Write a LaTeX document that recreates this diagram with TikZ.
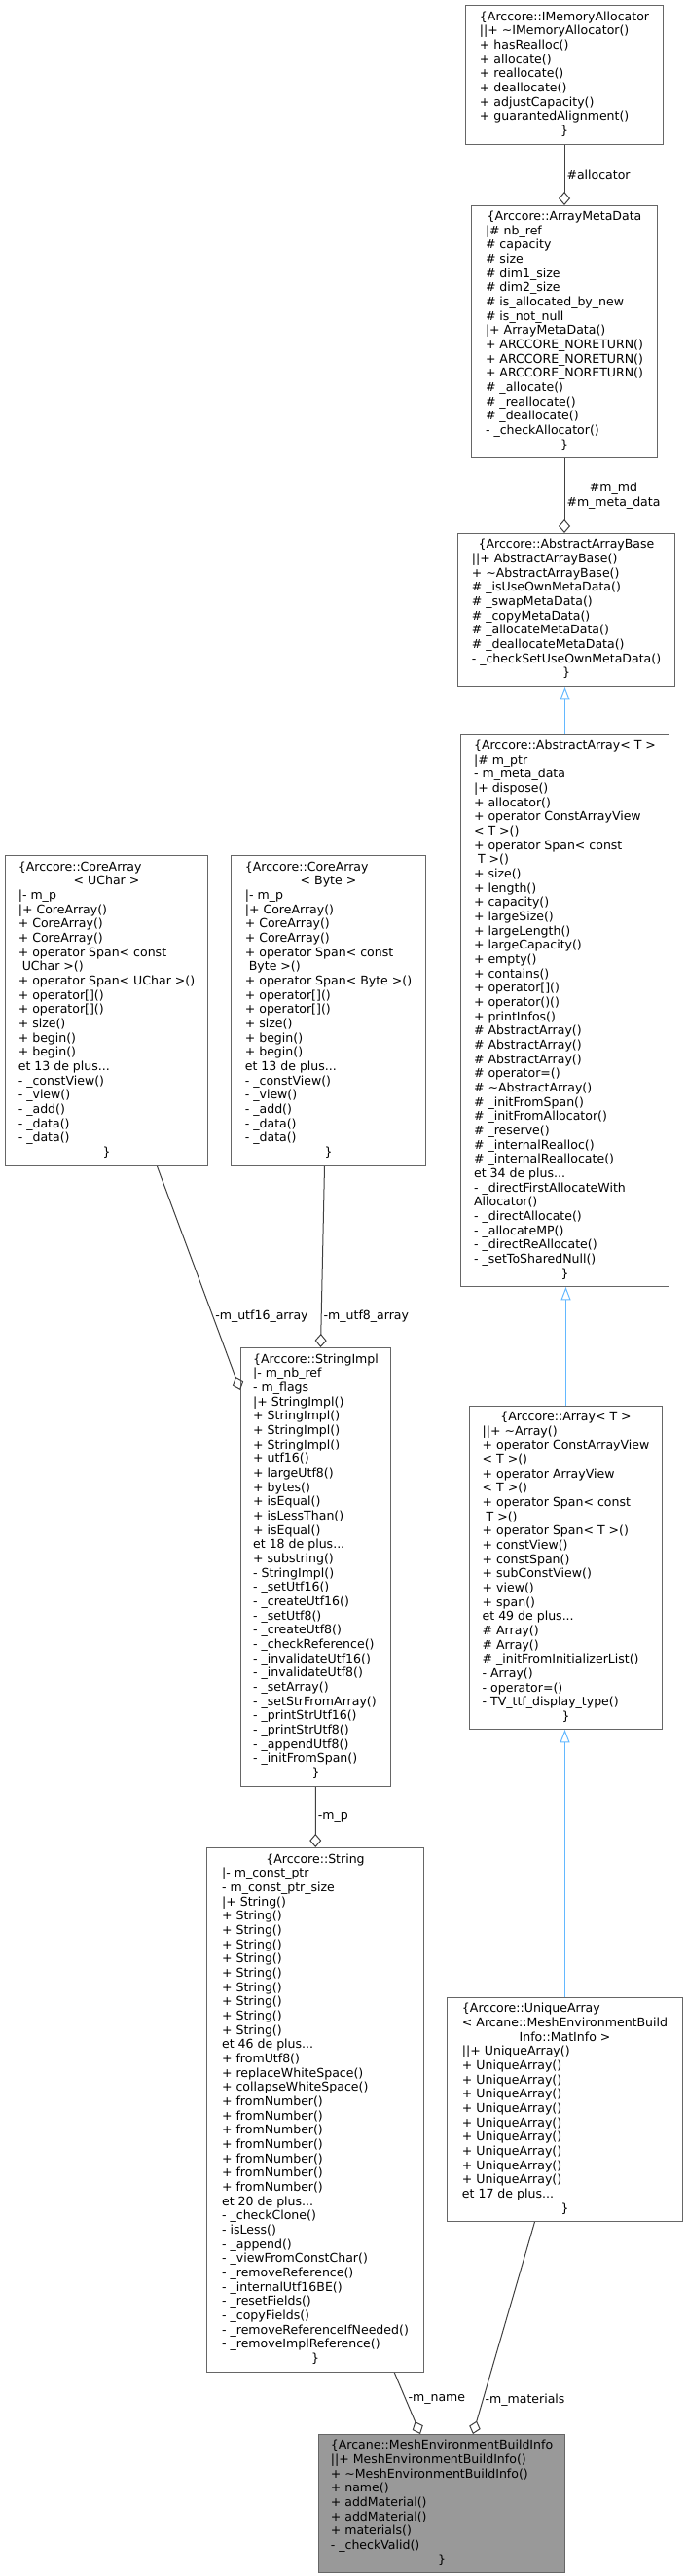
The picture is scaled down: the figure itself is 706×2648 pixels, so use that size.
\documentclass[tikz,border=0pt]{standalone}
\usepackage{fontspec}
\setmainfont{DejaVu Sans}
\usetikzlibrary{arrows.meta}

\definecolor{edgegray}{HTML}{404040}
\definecolor{boxgray}{HTML}{666666}
\definecolor{inhblue}{HTML}{63B8FF}
\definecolor{mainfill}{HTML}{999999}

% centred line inside a member list
\newcommand{\ctline}[1]{\multicolumn{1}{@{}c@{}}{#1}}
\newcommand{\members}[1]{\begin{tabular}{@{}l@{}}#1\end{tabular}}

\begin{document}
\begin{tikzpicture}[
    x=0.75pt, y=-0.75pt,
    font=\fontsize{9.4}{11}\selectfont,
    cls/.style={draw=boxgray, line width=0.75pt, fill=white, anchor=north west, inner sep=0pt},
    has/.style={draw=edgegray, line width=0.75pt, -{Diamond[open, length=10.5pt, width=9pt]}},
    inh/.style={draw=inhblue, line width=0.75pt, -{Triangle[open, length=10pt, width=7.5pt]}},
    lbl/.style={inner sep=1.5pt, anchor=west}
  ]
  \useasboundingbox (0,0) rectangle (706,2648);

  \node[cls, minimum width=152.25pt, minimum height=107.25pt] (alloc) at (478,5) {\members{%
    \ctline{\{Arccore::IMemoryAllocator}\\
    ||+ \textasciitilde IMemoryAllocator()\\
    + hasRealloc()\\
    + allocate()\\
    + reallocate()\\
    + deallocate()\\
    + adjustCapacity()\\
    + guarantedAlignment()\\
    \ctline{\}}}};

  \node[cls, minimum width=143.25pt, minimum height=194.25pt] (meta) at (484,211) {\members{%
    \ctline{\{Arccore::ArrayMetaData}\\
    |\# nb\_ref\\
    \# capacity\\
    \# size\\
    \# dim1\_size\\
    \# dim2\_size\\
    \# is\_allocated\_by\_new\\
    \# is\_not\_null\\
    |+ ArrayMetaData()\\
    + ARCCORE\_NORETURN()\\
    + ARCCORE\_NORETURN()\\
    + ARCCORE\_NORETURN()\\
    \# \_allocate()\\
    \# \_reallocate()\\
    \# \_deallocate()\\
    - \_checkAllocator()\\
    \ctline{\}}}};

  \node[cls, minimum width=167.25pt, minimum height=117.75pt] (base) at (470,548) {\members{%
    \ctline{\{Arccore::AbstractArrayBase}\\
    ||+ AbstractArrayBase()\\
    + \textasciitilde AbstractArrayBase()\\
    \# \_isUseOwnMetaData()\\
    \# \_swapMetaData()\\
    \# \_copyMetaData()\\
    \# \_allocateMetaData()\\
    \# \_deallocateMetaData()\\
    - \_checkSetUseOwnMetaData()\\
    \ctline{\}}}};

  \node[cls, minimum width=160.5pt, minimum height=425.25pt] (absarr) at (473,755) {\members{%
    \ctline{\{Arccore::AbstractArray< T >}\\
    |\# m\_ptr\\
    - m\_meta\_data\\
    |+ dispose()\\
    + allocator()\\
    + operator ConstArrayView\\
    < T >()\\
    + operator Span< const\\
    \ T >()\\
    + size()\\
    + length()\\
    + capacity()\\
    + largeSize()\\
    + largeLength()\\
    + largeCapacity()\\
    + empty()\\
    + contains()\\
    + operator[]()\\
    + operator()()\\
    + printInfos()\\
    \# AbstractArray()\\
    \# AbstractArray()\\
    \# AbstractArray()\\
    \# operator=()\\
    \# \textasciitilde AbstractArray()\\
    \# \_initFromSpan()\\
    \# \_initFromAllocator()\\
    \# \_reserve()\\
    \# \_internalRealloc()\\
    \# \_internalReallocate()\\
    et 34 de plus...\\
    - \_directFirstAllocateWith\\
    Allocator()\\
    - \_directAllocate()\\
    - \_allocateMP()\\
    - \_directReAllocate()\\
    - \_setToSharedNull()\\
    \ctline{\}}}};

  \node[cls, minimum width=156pt, minimum height=239.25pt] (uchar) at (5,879) {\members{%
    \{Arccore::CoreArray\\
    \ctline{< UChar >}\\
    |- m\_p\\
    |+ CoreArray()\\
    + CoreArray()\\
    + CoreArray()\\
    + operator Span< const\\
    \ UChar >()\\
    + operator Span< UChar >()\\
    + operator[]()\\
    + operator[]()\\
    + size()\\
    + begin()\\
    + begin()\\
    et 13 de plus...\\
    - \_constView()\\
    - \_view()\\
    - \_add()\\
    - \_data()\\
    - \_data()\\
    \ctline{\}}}};

  \node[cls, minimum width=150pt, minimum height=239.25pt] (byte) at (237,879) {\members{%
    \{Arccore::CoreArray\\
    \ctline{< Byte >}\\
    |- m\_p\\
    |+ CoreArray()\\
    + CoreArray()\\
    + CoreArray()\\
    + operator Span< const\\
    \ Byte >()\\
    + operator Span< Byte >()\\
    + operator[]()\\
    + operator[]()\\
    + size()\\
    + begin()\\
    + begin()\\
    et 13 de plus...\\
    - \_constView()\\
    - \_view()\\
    - \_add()\\
    - \_data()\\
    - \_data()\\
    \ctline{\}}}};

  \node[cls, minimum width=148.5pt, minimum height=249pt] (array) at (482,1445) {\members{%
    \ctline{\{Arccore::Array< T >}\\
    ||+ \textasciitilde Array()\\
    + operator ConstArrayView\\
    < T >()\\
    + operator ArrayView\\
    < T >()\\
    + operator Span< const\\
    \ T >()\\
    + operator Span< T >()\\
    + constView()\\
    + constSpan()\\
    + subConstView()\\
    + view()\\
    + span()\\
    et 49 de plus...\\
    \# Array()\\
    \# Array()\\
    \# \_initFromInitializerList()\\
    - Array()\\
    - operator=()\\
    - TV\_ttf\_display\_type()\\
    \ctline{\}}}};

  \node[cls, minimum width=115.5pt, minimum height=338.25pt] (impl) at (247,1385) {\members{%
    \ctline{\{Arccore::StringImpl}\\
    |- m\_nb\_ref\\
    - m\_flags\\
    |+ StringImpl()\\
    + StringImpl()\\
    + StringImpl()\\
    + StringImpl()\\
    + utf16()\\
    + largeUtf8()\\
    + bytes()\\
    + isEqual()\\
    + isLessThan()\\
    + isEqual()\\
    et 18 de plus...\\
    + substring()\\
    - StringImpl()\\
    - \_setUtf16()\\
    - \_createUtf16()\\
    - \_setUtf8()\\
    - \_createUtf8()\\
    - \_checkReference()\\
    - \_invalidateUtf16()\\
    - \_invalidateUtf8()\\
    - \_setArray()\\
    - \_setStrFromArray()\\
    - \_printStrUtf16()\\
    - \_printStrUtf8()\\
    - \_appendUtf8()\\
    - \_initFromSpan()\\
    \ctline{\}}}};

  \node[cls, minimum width=167.25pt, minimum height=404.25pt] (str) at (212,1899) {\members{%
    \ctline{\{Arccore::String}\\
    |- m\_const\_ptr\\
    - m\_const\_ptr\_size\\
    |+ String()\\
    + String()\\
    + String()\\
    + String()\\
    + String()\\
    + String()\\
    + String()\\
    + String()\\
    + String()\\
    + String()\\
    et 46 de plus...\\
    + fromUtf8()\\
    + replaceWhiteSpace()\\
    + collapseWhiteSpace()\\
    + fromNumber()\\
    + fromNumber()\\
    + fromNumber()\\
    + fromNumber()\\
    + fromNumber()\\
    + fromNumber()\\
    + fromNumber()\\
    et 20 de plus...\\
    - \_checkClone()\\
    - isLess()\\
    - \_append()\\
    - \_viewFromConstChar()\\
    - \_removeReference()\\
    - \_internalUtf16BE()\\
    - \_resetFields()\\
    - \_copyFields()\\
    - \_removeReferenceIfNeeded()\\
    - \_removeImplReference()\\
    \ctline{\}}}};

  \node[cls, minimum width=181.5pt, minimum height=172.5pt] (uniq) at (459,2053) {\members{%
    \{Arccore::UniqueArray\\
    < Arcane::MeshEnvironmentBuild\\
    \ctline{Info::MatInfo >}\\
    ||+ UniqueArray()\\
    + UniqueArray()\\
    + UniqueArray()\\
    + UniqueArray()\\
    + UniqueArray()\\
    + UniqueArray()\\
    + UniqueArray()\\
    + UniqueArray()\\
    + UniqueArray()\\
    + UniqueArray()\\
    et 17 de plus...\\
    \ctline{\}}}};

  \node[cls, fill=mainfill, minimum width=189.75pt, minimum height=106.5pt] (info) at (327,2502) {\members{%
    \ctline{\{Arcane::MeshEnvironmentBuildInfo}\\
    ||+ MeshEnvironmentBuildInfo()\\
    + \textasciitilde MeshEnvironmentBuildInfo()\\
    + name()\\
    + addMaterial()\\
    + addMaterial()\\
    + materials()\\
    - \_checkValid()\\
    \ctline{\}}}};

  % aggregation
  \draw[has] (alloc) -- (meta) node[lbl, midway] {\#allocator};
  \draw[has] (meta.south) -- (meta.south |- base.north)
    node[lbl, midway, align=center] {\#m\_md\\\#m\_meta\_data};
  \draw[has] ([xshift=39pt]uchar.south) -- ([yshift=-33pt]impl.north west)
    node[lbl, pos=0.67] {-m\_utf16\_array};
  \draw[has] ([xshift=-3pt]byte.south) -- ([xshift=3.75pt]impl.north)
    node[lbl, pos=0.83] {-m\_utf8\_array};
  \draw[has] (impl) -- (str) node[lbl, midway] {-m\_p};
  \draw[has] ([xshift=61pt]str.south) -- ([xshift=-16.5pt]info.north)
    node[lbl, pos=0.44] {-m\_name};
  \draw[has] ([xshift=-23.25pt]uniq.south) -- ([xshift=24pt]info.north)
    node[lbl, pos=0.84] {-m\_materials};

  % inheritance
  \draw[inh] (absarr.north) -- (absarr.north |- base.south);
  \draw[inh] (array.north) -- (array.north |- absarr.south);
  \draw[inh] (uniq.north) -- (uniq.north |- array.south);
\end{tikzpicture}
\end{document}
